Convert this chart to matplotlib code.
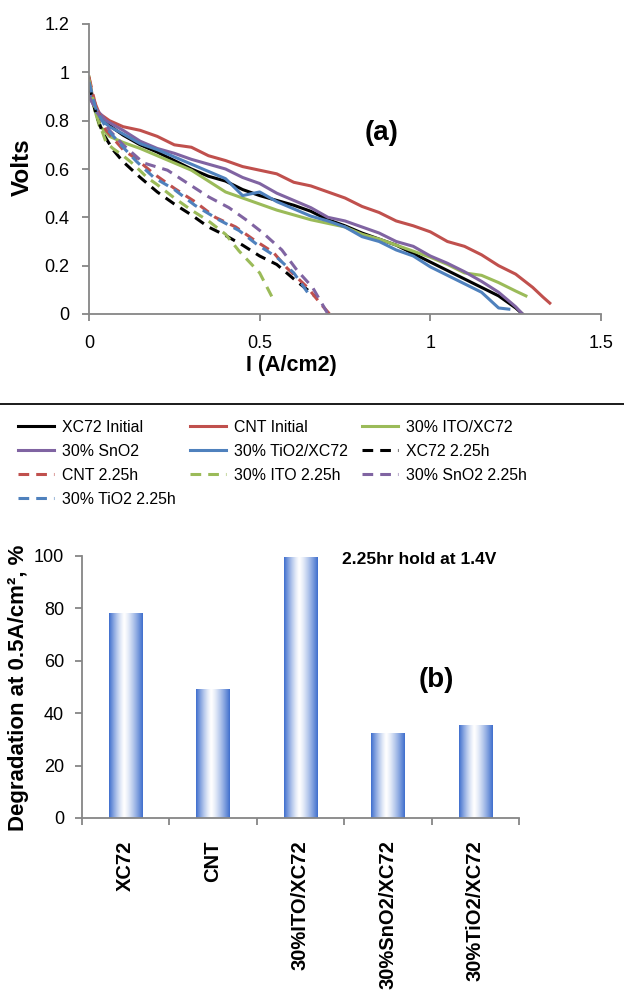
import numpy as np
import matplotlib
matplotlib.use("Agg")
import matplotlib.pyplot as plt
from matplotlib.lines import Line2D

# ---------------- data: panel (a) polarisation curves ----------------
xc72_init_I = [0, 0.01, 0.02, 0.04, 0.07, 0.1, 0.15, 0.2, 0.25, 0.3, 0.35, 0.4, 0.45, 0.5, 0.55, 0.6, 0.65, 0.7, 0.75, 0.8, 0.85, 0.9, 0.95, 1.0, 1.05, 1.1, 1.15, 1.2, 1.25, 1.27]
xc72_init_V = [0.95, 0.90, 0.84, 0.80, 0.77, 0.74, 0.70, 0.67, 0.635, 0.60, 0.57, 0.55, 0.515, 0.49, 0.47, 0.45, 0.425, 0.39, 0.365, 0.335, 0.31, 0.285, 0.25, 0.215, 0.18, 0.145, 0.11, 0.075, 0.025, 0.0]

cnt_init_I = [0, 0.01, 0.03, 0.06, 0.1, 0.15, 0.2, 0.25, 0.3, 0.35, 0.4, 0.45, 0.5, 0.55, 0.6, 0.65, 0.7, 0.75, 0.8, 0.85, 0.9, 0.95, 1.0, 1.05, 1.1, 1.15, 1.2, 1.25, 1.3, 1.33, 1.35]
cnt_init_V = [0.98, 0.90, 0.83, 0.80, 0.775, 0.76, 0.735, 0.70, 0.69, 0.655, 0.635, 0.61, 0.595, 0.58, 0.545, 0.53, 0.505, 0.48, 0.445, 0.42, 0.385, 0.365, 0.34, 0.30, 0.28, 0.245, 0.20, 0.165, 0.11, 0.07, 0.045]

ito_init_I = [0, 0.01, 0.03, 0.06, 0.1, 0.15, 0.2, 0.25, 0.3, 0.35, 0.4, 0.45, 0.5, 0.55, 0.6, 0.65, 0.7, 0.75, 0.8, 0.85, 0.9, 0.95, 1.0, 1.05, 1.1, 1.15, 1.2, 1.25, 1.28]
ito_init_V = [0.98, 0.88, 0.78, 0.735, 0.71, 0.685, 0.655, 0.625, 0.595, 0.55, 0.505, 0.48, 0.455, 0.43, 0.41, 0.39, 0.375, 0.36, 0.33, 0.31, 0.285, 0.26, 0.235, 0.205, 0.17, 0.16, 0.13, 0.095, 0.075]

sno2_init_I = [0, 0.02, 0.05, 0.1, 0.15, 0.2, 0.25, 0.3, 0.35, 0.4, 0.45, 0.5, 0.55, 0.6, 0.65, 0.7, 0.75, 0.8, 0.85, 0.9, 0.95, 1.0, 1.05, 1.1, 1.15, 1.2, 1.25, 1.27]
sno2_init_V = [0.90, 0.85, 0.80, 0.76, 0.715, 0.685, 0.665, 0.64, 0.62, 0.60, 0.565, 0.54, 0.50, 0.47, 0.44, 0.40, 0.385, 0.36, 0.335, 0.30, 0.28, 0.24, 0.21, 0.175, 0.135, 0.09, 0.03, 0.0]

tio2_init_I = [0, 0.01, 0.03, 0.06, 0.1, 0.15, 0.2, 0.25, 0.3, 0.35, 0.4, 0.45, 0.5, 0.55, 0.6, 0.65, 0.7, 0.75, 0.8, 0.85, 0.9, 0.95, 1.0, 1.05, 1.1, 1.15, 1.2, 1.23]
tio2_init_V = [0.97, 0.88, 0.81, 0.775, 0.745, 0.705, 0.68, 0.65, 0.62, 0.59, 0.56, 0.49, 0.505, 0.465, 0.435, 0.405, 0.385, 0.36, 0.32, 0.30, 0.265, 0.24, 0.195, 0.16, 0.125, 0.09, 0.025, 0.02]

xc72_h_I = [0, 0.02, 0.04, 0.07, 0.1, 0.15, 0.2, 0.25, 0.3, 0.35, 0.4, 0.45, 0.5, 0.55, 0.6, 0.64, 0.665]
xc72_h_V = [0.95, 0.83, 0.75, 0.68, 0.63, 0.565, 0.505, 0.455, 0.41, 0.36, 0.325, 0.285, 0.24, 0.205, 0.145, 0.10, 0.07]

cnt_h_I = [0, 0.02, 0.05, 0.1, 0.14, 0.19, 0.25, 0.31, 0.37, 0.43, 0.48, 0.54, 0.58, 0.64, 0.68, 0.705]
cnt_h_V = [0.98, 0.86, 0.76, 0.68, 0.64, 0.58, 0.52, 0.465, 0.40, 0.36, 0.31, 0.255, 0.19, 0.11, 0.04, 0.0]

ito_h_I = [0, 0.02, 0.035, 0.05, 0.07, 0.1, 0.13, 0.17, 0.2, 0.25, 0.3, 0.35, 0.4, 0.44, 0.47, 0.5, 0.52, 0.54]
ito_h_V = [0.97, 0.83, 0.77, 0.71, 0.685, 0.655, 0.62, 0.565, 0.535, 0.48, 0.43, 0.385, 0.33, 0.26, 0.215, 0.17, 0.115, 0.06]

sno2_h_I = [0, 0.03, 0.06, 0.1, 0.16, 0.23, 0.29, 0.35, 0.41, 0.46, 0.51, 0.565, 0.61, 0.655, 0.70]
sno2_h_V = [0.90, 0.82, 0.76, 0.70, 0.625, 0.595, 0.54, 0.485, 0.44, 0.39, 0.335, 0.265, 0.18, 0.11, 0.0]

tio2_h_I = [0, 0.02, 0.05, 0.1, 0.14, 0.19, 0.25, 0.31, 0.38, 0.44, 0.49, 0.55, 0.6, 0.65]
tio2_h_V = [0.96, 0.85, 0.77, 0.69, 0.63, 0.565, 0.515, 0.45, 0.39, 0.345, 0.29, 0.235, 0.17, 0.07]

# ---------------- data: panel (b) ----------------
categories = ["XC72", "CNT", "30%ITO/XC72", "30%SnO2/XC72", "30%TiO2/XC72"]
degradation = [78.1, 49.2, 99.6, 32.4, 35.5]

# ---------------- style ----------------
C_BLACK = "#000000"
C_RED = "#C0504D"
C_GREEN = "#9BBB59"
C_PURPLE = "#8064A2"
C_BLUE = "#4F81BD"
AX_GRAY = "#868686"

plt.rcParams["font.family"] = ["Liberation Sans", "DejaVu Sans"]

fig = plt.figure(figsize=(6.24, 9.99), dpi=100)

# ---------------- panel (a) ----------------
ax1 = fig.add_axes([89/624, 1-314/999, 512/624, 290/999])
LW = 2.2
DASH = (3.5, 2.3)
series = [
    (xc72_init_I, xc72_init_V, C_BLACK, "-", "XC72 Initial"),
    (cnt_init_I, cnt_init_V, C_RED, "-", "CNT Initial"),
    (ito_init_I, ito_init_V, C_GREEN, "-", "30% ITO/XC72"),
    (sno2_init_I, sno2_init_V, C_PURPLE, "-", "30% SnO2"),
    (tio2_init_I, tio2_init_V, C_BLUE, "-", "30% TiO2/XC72"),
    (xc72_h_I, xc72_h_V, C_BLACK, "--", "XC72 2.25h"),
    (cnt_h_I, cnt_h_V, C_RED, "--", "CNT 2.25h"),
    (ito_h_I, ito_h_V, C_GREEN, "--", "30% ITO 2.25h"),
    (sno2_h_I, sno2_h_V, C_PURPLE, "--", "30% SnO2 2.25h"),
    (tio2_h_I, tio2_h_V, C_BLUE, "--", "30% TiO2 2.25h"),
]
handles = []
for I, V, c, ls, lab in series:
    if ls == "--":
        ln, = ax1.plot(I, V, color=c, lw=LW, linestyle=(0, DASH), label=lab,
                       solid_joinstyle="round")
    else:
        ln, = ax1.plot(I, V, color=c, lw=LW, label=lab, solid_joinstyle="round")
    handles.append(ln)

ax1.set_xlim(0, 1.5)
ax1.set_ylim(0, 1.2)
ax1.set_xticks([0, 0.5, 1, 1.5])
ax1.set_xticklabels(["0", "0.5", "1", "1.5"])
ax1.set_yticks([0, 0.2, 0.4, 0.6, 0.8, 1.0, 1.2])
ax1.set_yticklabels(["0", "0.2", "0.4", "0.6", "0.8", "1", "1.2"])
for s in ["top", "right"]:
    ax1.spines[s].set_visible(False)
for s in ["left", "bottom"]:
    ax1.spines[s].set_color(AX_GRAY)
    ax1.spines[s].set_linewidth(1.3)
ax1.tick_params(axis="both", colors=AX_GRAY, width=1.3, length=5, direction="out")
ax1.tick_params(axis="x", pad=10)
ax1.tick_params(axis="y", pad=9)
for t in ax1.get_xticklabels() + ax1.get_yticklabels():
    t.set_color("black")
    t.set_fontsize(13)
ax1.set_xlabel("I (A/cm2)", fontsize=15.5, fontweight="bold")
ax1.xaxis.set_label_coords(0.396, -0.179)
ax1.xaxis.label.set_va("center")
ax1.set_ylabel("Volts", fontsize=17.5, fontweight="bold")
ax1.yaxis.set_label_coords(-0.131, 0.505)
ax1.yaxis.label.set_va("center")
ax1.text(0.858, 0.75, "(a)", fontsize=20, fontweight="bold", ha="center", va="center")

# ---------------- legend ----------------
fig.add_artist(Line2D([0, 1], [1-404/999, 1-404/999], transform=fig.transFigure,
                      color="#1a1a1a", lw=1.4))
cols = [[0, 3, 6, 9], [1, 4, 7], [2, 5, 8]]
col_x = [18/624, 190/624, 362/624]
for ci, idx in enumerate(cols):
    hs = [handles[i] for i in idx]
    ls_ = [series[i][4] for i in idx]
    fig.legend(hs, ls_, loc="upper left", bbox_to_anchor=(col_x[ci], 1-420/999),
               bbox_transform=fig.transFigure, frameon=False, borderpad=0,
               borderaxespad=0, handlelength=2.3, handletextpad=0.5,
               labelspacing=0.56, prop={"size": 11.4})

# ---------------- panel (b) ----------------
ax2 = fig.add_axes([82/624, 1-818/999, 437/624, 262/999])
x = np.arange(len(categories))
bars = ax2.bar(x, degradation, width=0.38, color="none", edgecolor="none")
t = np.linspace(0, 1, 256)
prof = np.clip(np.abs(t - 0.45) / np.where(t < 0.45, 0.45, 0.55), 0, 1) ** 1.3
blue = np.array([62, 110, 205]) / 255.0
white = np.array([1.0, 1.0, 1.0])
grad = (white[None, :] * (1 - prof[:, None]) + blue[None, :] * prof[:, None])[None, :, :]
for b in bars:
    x0, w, h = b.get_x(), b.get_width(), b.get_height()
    im = ax2.imshow(grad, extent=[x0, x0 + w, 0, h], aspect="auto",
                    interpolation="bilinear", zorder=2)
    im.set_clip_path(b)
ax2.set_xlim(-0.5, len(categories) - 0.5)
ax2.set_ylim(0, 100)
ax2.set_yticks([0, 20, 40, 60, 80, 100])
ax2.set_xticks(np.arange(len(categories) + 1) - 0.5)
ax2.set_xticklabels([])
ax2.set_xticks(x, minor=True)
ax2.set_xticklabels(categories, minor=True, rotation=90, fontsize=14.5,
                    fontweight="bold", va="top", ha="center")
ax2.tick_params(axis="x", which="minor", length=0, pad=16)
for s in ["top", "right"]:
    ax2.spines[s].set_visible(False)
for s in ["left", "bottom"]:
    ax2.spines[s].set_color(AX_GRAY)
    ax2.spines[s].set_linewidth(1.3)
ax2.tick_params(axis="both", which="major", colors=AX_GRAY, width=1.3, length=5,
                direction="out")
ax2.tick_params(axis="y", pad=8)
for tl in ax2.get_yticklabels():
    tl.set_color("black")
    tl.set_fontsize(13)
ax2.set_ylabel("Degradation at 0.5A/cm², %", fontsize=16, fontweight="bold")
ax2.yaxis.set_label_coords(-0.145, 0.496)
ax2.yaxis.label.set_va("center")
ax2.text(3.36, 98.5, "2.25hr hold at 1.4V", fontsize=12.5, fontweight="bold",
         ha="center", va="center")
ax2.text(3.55, 52.7, "(b)", fontsize=20, fontweight="bold", ha="center", va="center")

fig.savefig("out.png", dpi=100)
